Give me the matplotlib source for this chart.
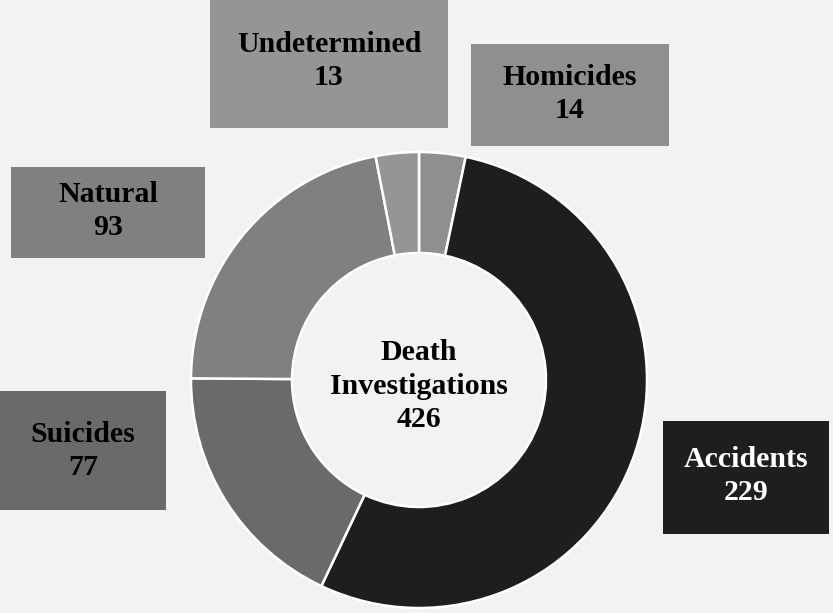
import matplotlib.pyplot as plt
from matplotlib.patches import Rectangle

# data
categories = ['Homicides', 'Accidents', 'Suicides', 'Natural', 'Undetermined']
counts = [14, 229, 77, 93, 13]
colors = ['#8f8f8f', '#1e1e1e', '#6a6a6a', '#808080', '#959595']
center_title = 'Death\nInvestigations'
total = sum(counts)

W, H = 833, 613
fig = plt.figure(figsize=(W / 100, H / 100), dpi=100, facecolor='#f2f2f2')
ax = fig.add_axes([0, 0, 1, 1])
ax.set_facecolor('#f2f2f2')

cx, cy = 419, H - 380
R = 228
ax.pie(counts, colors=colors, startangle=90, counterclock=False,
       radius=R, center=(cx, cy),
       wedgeprops=dict(width=R - 127, edgecolor='white', linewidth=1.8))

fs = 21.5
ls = 1.32
ax.text(cx, H - 386, center_title + '\n' + str(total), ha='center', va='center',
        fontsize=fs, fontweight='bold', family='Liberation Serif',
        linespacing=ls, color='black')

# label boxes: (x0, y0_top, x1, y1_bottom) in pixels, text centre y
boxes = {
    'Undetermined': (210, 0, 448, 128, 61),
    'Homicides': (471, 44, 669, 146, 94),
    'Natural': (11, 167, 205, 258, 211),
    'Suicides': (0, 391, 166, 510, 451),
    'Accidents': (663, 421, 829, 534, 476),
}
for name, val, col in zip(categories, counts, colors):
    x0, y0, x1, y1, ty = boxes[name]
    ax.add_patch(Rectangle((x0, H - y1), x1 - x0, y1 - y0, facecolor=col,
                           edgecolor='none', zorder=3))
    tc = 'white' if name == 'Accidents' else 'black'
    ax.text((x0 + x1) / 2, H - ty, f'{name}\n{val}', ha='center', va='center',
            fontsize=fs, fontweight='bold', family='Liberation Serif',
            linespacing=ls, color=tc, zorder=4)

ax.set_xlim(0, W)
ax.set_ylim(0, H)
ax.set_aspect('auto')
ax.axis('off')

fig.savefig('out.png', dpi=100, facecolor='#f2f2f2')
